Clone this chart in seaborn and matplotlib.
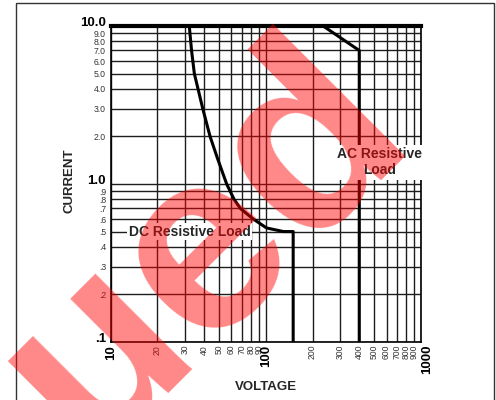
import numpy as np
import pandas as pd
import matplotlib
matplotlib.use("Agg")
import matplotlib.pyplot as plt
import matplotlib.transforms as mtransforms
import seaborn as sns
from matplotlib.patches import Rectangle

# --- data ---
dc_voltage = [32.1, 33.2, 34.6, 39.2, 43.7, 48.7, 55.9, 62.4, 68.5, 83.0, 101.0, 130.0, 150.0, 150.0]
dc_current = [10.0, 7.0, 5.0, 3.0, 2.0, 1.46, 1.0, 0.8, 0.7, 0.6, 0.527, 0.5, 0.5, 0.1]
ac_voltage = [234.0, 400.0, 400.0]
ac_current = [10.0, 7.0, 0.1]

x_ticks = [10, 20, 30, 40, 50, 60, 70, 80, 90, 100, 200, 300, 400, 500, 600, 700, 800, 900, 1000]
x_labels = ["10", "20", "30", "40", "50", "60", "70", "80", "90", "100",
            "200", "300", "400", "500", "600", "700", "800", "900", "1000"]
y_ticks = [0.1, 0.2, 0.3, 0.4, 0.5, 0.6, 0.7, 0.8, 0.9, 1.0, 2, 3, 4, 5, 6, 7, 8, 9, 10]
y_labels = [".1", ".2", ".3", ".4", ".5", ".6", ".7", ".8", ".9", "1.0",
            "2.0", "3.0", "4.0", "5.0", "6.0", "7.0", "8.0", "9.0", "10.0"]
bold_x = {"10", "100", "1000"}
bold_y = {".1", "1.0", "10.0"}

sns.set_theme(style="white")
plt.rcParams['font.family'] = ['Liberation Sans', 'DejaVu Sans']

fig = plt.figure(figsize=(4.96, 4.0), dpi=100)
ax = fig.add_axes([110.7 / 496, 1 - 342 / 400, 310.3 / 496, 316 / 400])

dc = pd.DataFrame({"voltage": dc_voltage, "current": dc_current})
ac = pd.DataFrame({"voltage": ac_voltage, "current": ac_current})
sns.lineplot(data=dc, x="voltage", y="current", sort=False, estimator=None,
             color="black", lw=2.2, ax=ax, zorder=4)
sns.lineplot(data=ac, x="voltage", y="current", sort=False, estimator=None,
             color="black", lw=2.2, ax=ax, zorder=4)

ax.set_xscale("log")
ax.set_yscale("log")
ax.set_xlim(10, 1000)
ax.set_ylim(0.1, 10)

ax.xaxis.set_minor_locator(matplotlib.ticker.NullLocator())
ax.yaxis.set_minor_locator(matplotlib.ticker.NullLocator())
ax.set_xticks(x_ticks)
ax.set_xticklabels(x_labels, rotation=90, va="top", ha="center")
ax.set_yticks(y_ticks)
ax.set_yticklabels(y_labels)
ax.tick_params(axis="both", length=0)
ax.tick_params(axis="x", pad=2)
ax.tick_params(axis="y", pad=3.4)

for t in ax.get_xticklabels():
    if t.get_text() in bold_x:
        t.set_fontsize(9.5)
        t.set_fontweight("bold")
        t.set_color("black")
    else:
        t.set_fontsize(6.2)
        t.set_color("#333333")
    if t.get_text() == "1000":
        # the reference nudges this one to the right of the last grid line
        t.set_transform(t.get_transform() +
                        mtransforms.ScaledTranslation(6 / 100, 0, fig.dpi_scale_trans))
for t in ax.get_yticklabels():
    if t.get_text() in bold_y:
        t.set_fontsize(9.5)
        t.set_fontweight("bold")
        t.set_color("black")
        t.set_verticalalignment("baseline")
    else:
        t.set_fontsize(6.2)
        t.set_color("#333333")

ax.grid(True, which="major", color="#1e1e1e", lw=1.0)
ax.set_axisbelow(True)
for side in ["left", "bottom", "right"]:
    ax.spines[side].set_color("black")
    ax.spines[side].set_linewidth(1.2)
ax.spines["top"].set_color("black")
ax.spines["top"].set_linewidth(3.0)

ax.set_xlabel("VOLTAGE", fontsize=9.5, fontweight="bold")
ax.set_ylabel("CURRENT", fontsize=9.5, fontweight="bold")
ax.xaxis.set_label_coords(0.5, -0.124)
ax.yaxis.set_label_coords(-0.112, 0.51)

ax.text(540, 1.37, "AC Resistive\nLoad", fontsize=10, fontweight="bold",
        ha="center", va="center", multialignment="center", zorder=5,
        bbox=dict(boxstyle="square,pad=0.15", fc="white", ec="none"))
ax.text(32.3, 0.5, "DC Resistive Load", fontsize=10, fontweight="bold",
        ha="center", va="center", zorder=5,
        bbox=dict(boxstyle="square,pad=0.1", fc="white", ec="none"))

# page frame
fig.add_artist(Rectangle((16 / 496, -0.02), (494 - 16) / 496, 1.02 - 3 / 400,
                         transform=fig.transFigure, fill=False, ec="#333333", lw=1.0))

# watermark
fig.text(0.834, 0.672, "Discontinued", rotation=45, rotation_mode="anchor",
         ha="right", va="baseline", fontsize=186, fontweight="bold",
         color="red", alpha=0.47, zorder=10)

fig.savefig("out.png", dpi=100)
